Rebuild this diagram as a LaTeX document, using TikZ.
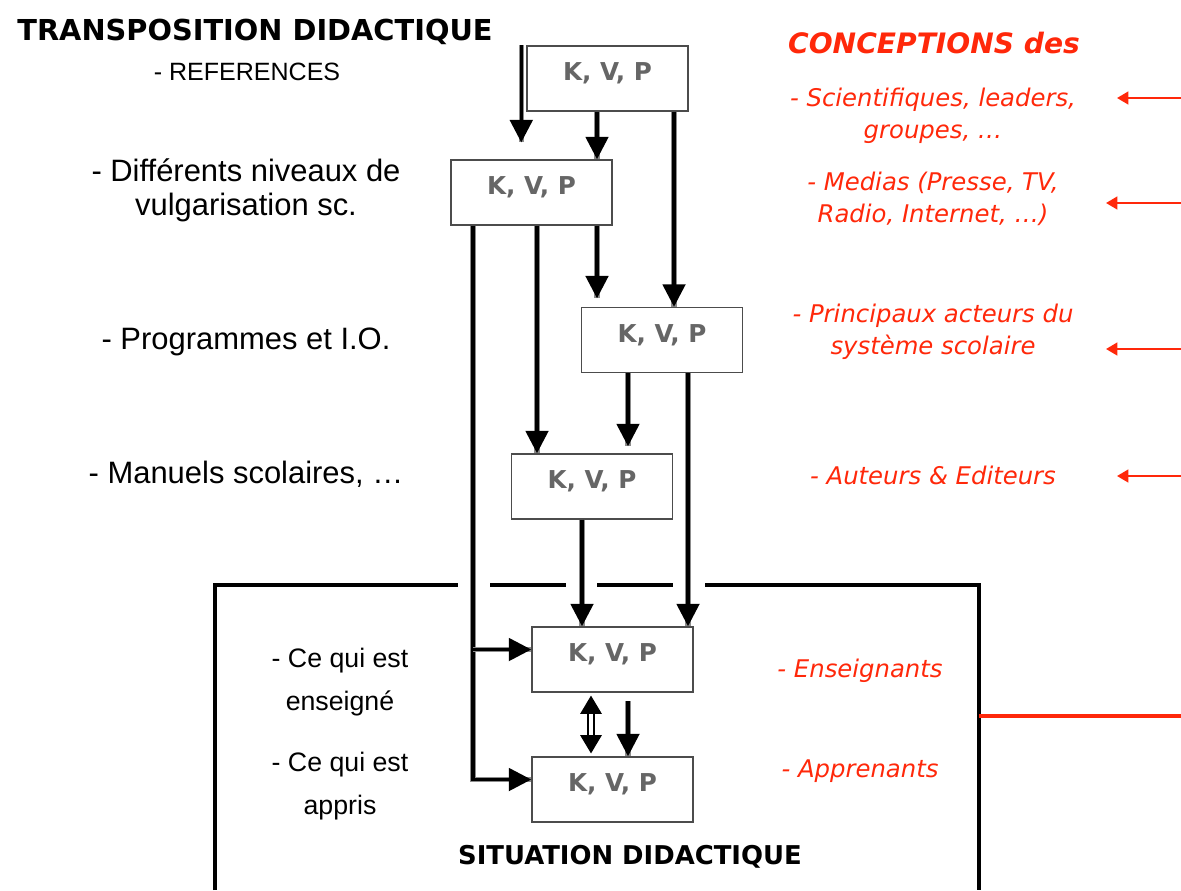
\documentclass[tikz,border=0pt]{standalone}
\usepackage{fontspec}
\setmainfont{Liberation Sans}
\newfontfamily\verdfont{DejaVu Sans}
\usetikzlibrary{positioning,arrows.meta,calc}
\definecolor{concred}{RGB}{255,40,10}

\begin{document}
\begin{tikzpicture}[x=0.025cm,y=-0.025cm,
    kvp/.style={rectangle,draw=black!70,line width=1pt,minimum width=4.025cm,minimum height=1.625cm,
      font=\verdfont\bfseries\fontsize{17.5}{20}\selectfont,text=black!60,text height=12.5pt,text depth=9pt},
    lbl/.style={align=center,font=\fontsize{22}{24}\selectfont},
    sublbl/.style={align=center,font=\fontsize{19}{30}\selectfont},
    head/.style={font=\verdfont\bfseries\fontsize{20.5}{24}\selectfont},
    conc/.style={align=center,text=concred,font=\verdfont\itshape\fontsize{17.3}{22.5}\selectfont},
    flow/.style={-{Triangle[length=16pt,width=16pt]},line width=2.5pt,preaction={draw,black!45,line width=3.8pt,-}},
    twoway/.style={{Triangle[length=13pt,width=15pt]}-{Triangle[length=13pt,width=15pt]},double,double distance=2.2pt,line width=1.8pt},
    frame/.style={line width=2.5pt,line join=miter},
    redarrow/.style={-{Triangle[length=8pt,width=9pt]},concred,line width=1.5pt}]
    \useasboundingbox (0,0) rectangle (1181,890);

    % Titles
    \node[head] (trans) at (255,32) {TRANSPOSITION DIDACTIQUE};
    \node[head,text=concred,font=\verdfont\bfseries\itshape\fontsize{20}{24}\selectfont] (concept) at (934,43) {CONCEPTIONS des};
    \node[head,font=\verdfont\bfseries\fontsize{18.4}{22}\selectfont] (situ) at (630,857) {SITUATION DIDACTIQUE};

    % Levels (left)
    \node[lbl,font=\fontsize{17.8}{22}\selectfont] (ref) at (247,72) {- REFERENCES};
    \node[lbl] (vulg) at (246,190.5) {- Différents niveaux de\\vulgarisation sc.};
    \node[lbl] (prog) at (246,342) {- Programmes et I.O.};
    \node[lbl] (manu) at (246,474) {- Manuels scolaires, \dots};
    \node[sublbl] (ens) at (340,682) {- Ce qui est\\enseigné};
    \node[sublbl] (app) at (340,786) {- Ce qui est\\appris};

    % K, V, P boxes
    \node[kvp] (b1) at (607.5,78.5) {K, V, P};
    \node[kvp] (b2) at (531.5,192.5) {K, V, P};
    \node[kvp] (b3) at (662,340) {K, V, P};
    \node[kvp] (b4) at (592,486.5) {K, V, P};
    \node[kvp] (b5) at (612.5,659.5) {K, V, P};
    \node[kvp] (b6) at (612.5,789.5) {K, V, P};

    % Conceptions (right)
    \node[conc] (sci) at (933,116) {- Scientifiques, leaders,\\groupes, \dots};
    \node[conc] (med) at (933,199) {- Medias (Presse, TV,\\Radio, Internet, \dots)};
    \node[conc] (acte) at (933,332) {- Principaux acteurs du\\système scolaire};
    \node[conc] (aut) at (933,475) {- Auteurs \& Editeurs};
    \node[conc] (ensg) at (860,671) {- Enseignants};
    \node[conc] (appr) at (860,771) {- Apprenants};

    % Connections
    \coordinate (s0) at ($(b1.north west)+(-5,0)$);
    \coordinate (s1) at ($(b1.south)+(-10.5,0)$);
    \coordinate (s2) at ($(b1.south)+(66.5,0)$);
    \coordinate (s3) at ($(b2.south)+(65.5,0)$);
    \coordinate (s4) at ($(b2.south)+(5.5,0)$);
    \coordinate (trunk) at ($(b2.south)+(-58.5,0)$);
    \coordinate (s5) at ($(b3.south)+(-34,0)$);
    \coordinate (s6) at ($(b3.south)+(26,0)$);
    \coordinate (s7) at ($(b4.south)+(-10,0)$);
    \coordinate (s8) at ($(b5.south)+(-21.5,0)$);
    \coordinate (s9) at ($(b5.south)+(15.5,0)$);
    \coordinate (e5) at ($(b5.west)+(0,-10)$);
    \coordinate (e6) at ($(b6.west)+(0,-10)$);
    \draw[flow,shorten >=12pt] (s0) -- (s0 |- b2.north);
    \draw[flow] (s1) -- (s1 |- b2.north);
    \draw[flow] (s2) -- (s2 |- b3.north);
    \draw[flow,shorten >=6pt] (s3) -- (s3 |- b3.north);
    \draw[flow] (s4) -- (s4 |- b4.north);
    \draw[flow] (trunk) |- (e6);
    \draw[flow] (e5 -| trunk) -- (e5);
    \draw[flow,shorten >=5pt] (s5) -- (s5 |- b4.north);
    \draw[flow] (s6) -- (s6 |- b5.north);
    \draw[flow] (s7) -- (s7 |- b5.north);
    \draw[twoway,shorten <=2pt,shorten >=2pt] (s8) -- (s8 |- b6.north);
    \draw[flow,shorten <=6pt] (s9) -- (s9 |- b6.north);

    % Situation frame
    \draw[frame] (215,890) -- (215,585) -- (458,585);
    \draw[frame] (490,585) -- (566,585);
    \draw[frame] (597,585) -- (673,585);
    \draw[frame] (705,585) -- (979,585) -- (979,890);

    % Red arrows
    \coordinate (r1) at (1181,98);   \coordinate (t1) at (1117,98);
    \coordinate (r2) at (1181,203);  \coordinate (t2) at (1106,203);
    \coordinate (r3) at (1181,349);  \coordinate (t3) at (1106,349);
    \coordinate (r4) at (1181,476);  \coordinate (t4) at (1117,476);
    \coordinate (r5) at (1181,716);  \coordinate (t5) at (979,716);
    \draw[redarrow] (r1) -- (t1);
    \draw[redarrow] (r2) -- (t2);
    \draw[redarrow] (r3) -- (t3);
    \draw[redarrow] (r4) -- (t4);
    \draw[concred,line width=2.2pt] (t5) -- (r5);
\end{tikzpicture}
\end{document}
